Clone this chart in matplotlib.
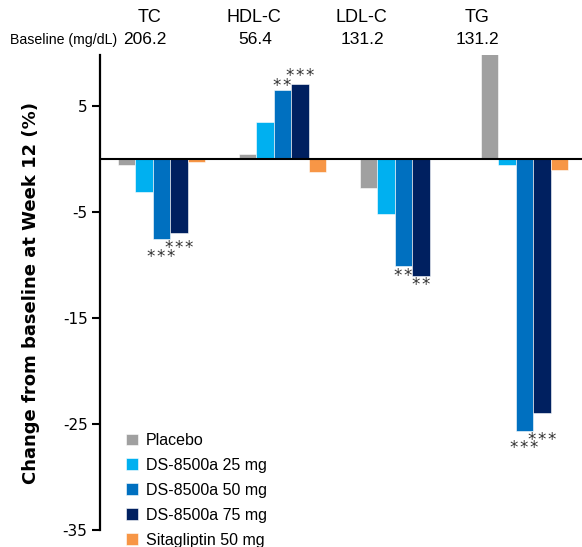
import numpy as np
import matplotlib.pyplot as plt

plt.rcParams["axes.unicode_minus"] = False

groups = ["TC", "HDL-C", "LDL-C", "TG"]
baseline = ["206.2", "56.4", "131.2", "131.2"]
treatments = ["Placebo", "DS-8500a 25 mg", "DS-8500a 50 mg", "DS-8500a 75 mg", "Sitagliptin 50 mg"]
colors = ["#A0A0A0", "#00B0F0", "#0070C0", "#002060", "#F79646"]

# % change from baseline at week 12, per treatment, order TC, HDL-C, LDL-C, TG
placebo = [-0.6, 0.5, -2.7, 10.5]
ds25 = [-3.1, 3.5, -5.2, -0.6]
ds50 = [-7.6, 6.5, -10.1, -25.7]
ds75 = [-7.0, 7.1, -11.0, -24.0]
sita = [-0.3, -1.2, 0.0, -1.0]
values = [placebo, ds25, ds50, ds75, sita]

# significance marks: (group, treatment index, label, offset in px from bar end)
stars = [(0, 2, "***", 13), (0, 3, "***", 10),
         (1, 2, "**", 9), (1, 3, "***", 12),
         (2, 2, "**", 5), (2, 3, "**", 5),
         (3, 2, "***", 12), (3, 3, "***", 22)]

fig = plt.figure(figsize=(5.82, 5.47), dpi=100)
ax = fig.add_axes([100/582, 1 - 530/547, 482/582, 475/547])

x = np.arange(len(groups))
w = 0.1446
for i, (vals, c, lab) in enumerate(zip(values, colors, treatments)):
    ax.bar(x + (i - 2) * w, vals, w, color=c, edgecolor="white", linewidth=0.4, label=lab)

ax.axhline(0, color="black", lw=1.5, zorder=5)
ax.set_xlim(-0.508, 3.475)
ax.set_ylim(-35, 9.8)
ax.set_yticks([5, -5, -15, -25, -35])
ax.set_xticks([])
for s in ["top", "right", "bottom"]:
    ax.spines[s].set_visible(False)
ax.spines["left"].set_linewidth(1.6)
ax.tick_params(axis="y", direction="out", length=6, width=1.5, labelsize=11, pad=3)

fs = 12
for g, t, lab, off in stars:
    v = values[t][g]
    sign = 1 if v > 0 else -1
    d = sign * off * 0.72 - 0.58 * fs
    ax.annotate("\u200a".join(lab), (x[g] + (t - 2) * w, v), xytext=(0, d), textcoords="offset points",
                ha="center", va="baseline", fontsize=fs, color="#333333")

fig.text(31/582, 1 - 293/547, "Change from baseline at Week 12 (%)", rotation=90,
         ha="center", va="center", fontsize=13, fontweight="bold")

head_x = [150, 254, 361, 477]
base_x = [145, 255, 362, 477]
for g, b, hx, bx in zip(groups, baseline, head_x, base_x):
    fig.text(hx/582, 1 - 17/547, g, ha="center", va="center", fontsize=13, family="Liberation Sans")
    fig.text(bx/582, 1 - 40/547, b, ha="center", va="center", fontsize=12.5, family="Liberation Sans")
fig.text(10/582, 1 - 40/547, "Baseline (mg/dL)", ha="left", va="center", fontsize=10.2, family="Liberation Sans")

ax.legend(loc="upper left", bbox_to_anchor=(118/582, 1 - 425/547), bbox_transform=fig.transFigure,
          frameon=False, prop={"family": "Liberation Sans", "size": 11.5},
          handlelength=0.75, handleheight=0.75, handletextpad=0.5, labelspacing=0.62, borderpad=0)

fig.savefig("out.png", dpi=100)
